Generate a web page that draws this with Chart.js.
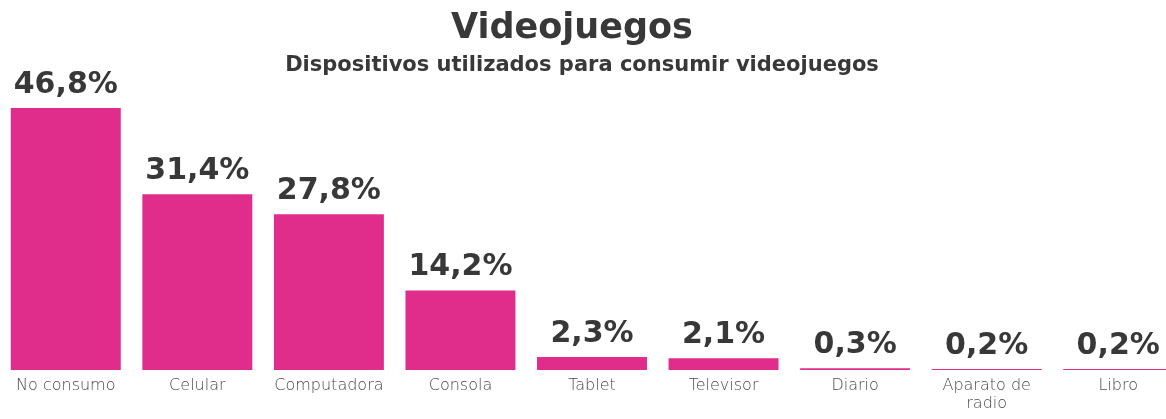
<!DOCTYPE html>
<html>
<head>
<meta charset="utf-8">
<script src="https://cdn.jsdelivr.net/npm/chart.js@4"></script>
<style>
  html, body { margin: 0; padding: 0; background: #ffffff; overflow: hidden; width: 1166px; height: 419px; }
  #wrap { position: absolute; left: 0; top: 0; width: 1184px; height: 419px; }
</style>
</head>
<body>
<div id="wrap"><canvas id="c" width="1184" height="419"></canvas></div>
<script>
const titleText = 'Videojuegos';
const subtitleText = 'Dispositivos utilizados para consumir videojuegos';
const categories = ['No consumo', 'Celular', 'Computadora', 'Consola', 'Tablet', 'Televisor', 'Diario', ['Aparato de', 'radio'], 'Libro'];
const values = [46.8, 31.4, 27.8, 14.2, 2.3, 2.1, 0.3, 0.2, 0.2];
const valueLabels = ['46,8%', '31,4%', '27,8%', '14,2%', '2,3%', '2,1%', '0,3%', '0,2%', '0,2%'];

const barColor = '#E02D8C';
const textDark = '#383838';
const labelGray = '#4a4a4a';

const overlayPlugin = {
  id: 'overlay',
  afterDatasetsDraw(chart) {
    const ctx = chart.ctx;
    ctx.save();
    ctx.fillStyle = textDark;
    ctx.textAlign = 'center';
    ctx.textBaseline = 'alphabetic';
    ctx.font = 'bold 30px "DejaVu Sans"';
    const meta = chart.getDatasetMeta(0);
    meta.data.forEach((bar, i) => {
      ctx.fillText(valueLabels[i], bar.x, bar.y - 15);
    });
    ctx.font = 'bold 35px "DejaVu Sans"';
    ctx.fillText(titleText, 572, 38);
    ctx.font = 'bold 21px "DejaVu Sans"';
    ctx.fillText(subtitleText, 582, 71);
    ctx.restore();
  }
};

new Chart(document.getElementById('c'), {
  type: 'bar',
  data: {
    labels: categories,
    datasets: [{
      data: values,
      backgroundColor: barColor,
      borderWidth: 0,
      barPercentage: 0.836,
      categoryPercentage: 1.0
    }]
  },
  options: {
    responsive: false,
    devicePixelRatio: 1,
    animation: false,
    layout: { padding: { top: 34, left: 0, right: 0, bottom: 0 } },
    plugins: {
      legend: { display: false },
      title: { display: false },
      tooltip: { enabled: false }
    },
    scales: {
      x: {
        grid: { display: false, drawTicks: false },
        border: { display: false },
        ticks: {
          color: labelGray,
          font: { family: '"DejaVu Sans"', size: 16, weight: '200', lineHeight: 1.1 },
          padding: 7,
          maxRotation: 0,
          autoSkip: false
        },
        afterFit(scale) { scale.height = 49; }
      },
      y: {
        display: false,
        min: 0,
        max: 60
      }
    }
  },
  plugins: [overlayPlugin]
});
</script>
</body>
</html>
